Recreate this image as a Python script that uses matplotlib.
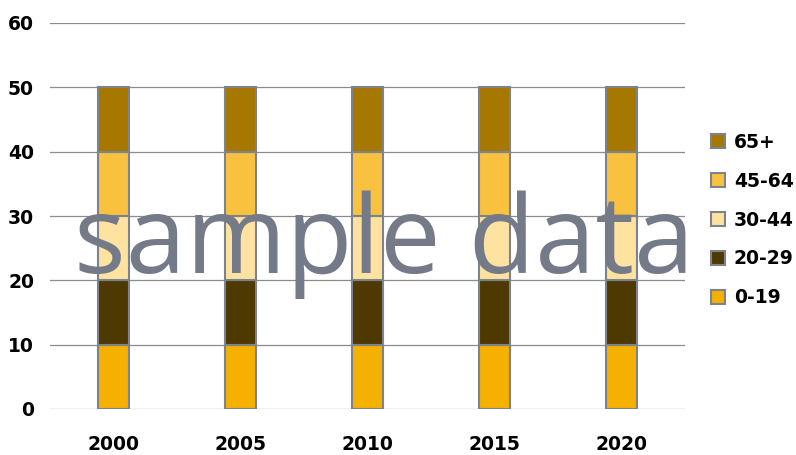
import matplotlib
matplotlib.use("Agg")
import matplotlib.pyplot as plt
from matplotlib.patches import Patch
from matplotlib.font_manager import FontProperties
import numpy as np

years = ["2000", "2005", "2010", "2015", "2020"]
groups = ["0-19", "20-29", "30-44", "45-64", "65+"]
values = {
    "0-19": [10, 10, 10, 10, 10],
    "20-29": [10, 10, 10, 10, 10],
    "30-44": [10, 10, 10, 10, 10],
    "45-64": [10, 10, 10, 10, 10],
    "65+": [10, 10, 10, 10, 10],
}
colors = {
    "0-19": "#F5B000",
    "20-29": "#4E3A00",
    "30-44": "#FDE2A0",
    "45-64": "#F8C240",
    "65+": "#A67800",
}
edge = "#7C838D"

plt.rcParams['font.family'] = ['Open Sans', 'DejaVu Sans']
label_fp = FontProperties(family='DejaVu Sans', weight='bold', size=13.5)

fig = plt.figure(figsize=(7.96, 4.55), dpi=100)
ax = fig.add_axes([50/796, 1-409/455, 635/796, 386/455])

x = np.arange(len(years))
bottom = np.zeros(len(years))
for g in groups:
    v = np.array(values[g], dtype=float)
    ax.bar(x, v, bottom=bottom, width=0.25, color=colors[g], edgecolor=edge,
           linewidth=1.5, zorder=3, label=g)
    bottom += v

ax.set_xlim(-0.5, len(years) - 0.5)
ax.set_ylim(0, 60)
ax.set_yticks(range(0, 61, 10))
ax.set_xticks(x)
ax.set_xticklabels(years)
ax.yaxis.grid(True, color="#8C8C8C", linewidth=0.9, zorder=0)
ax.set_axisbelow(True)
for s in ax.spines.values():
    s.set_visible(False)
ax.tick_params(axis='both', length=0)
ax.tick_params(axis='y', pad=11.5)
ax.tick_params(axis='x', pad=18.5)
for lab in ax.get_xticklabels() + ax.get_yticklabels():
    lab.set_fontproperties(label_fp)

handles = [Patch(facecolor=colors[g], edgecolor=edge, linewidth=1.5, label=g)
           for g in reversed(groups)]
leg = fig.legend(handles=handles, loc='center left', bbox_to_anchor=(703/796, 1-220/455),
                 frameon=False, prop=label_fp,
                 handlelength=0.75, handleheight=0.75, handletextpad=0.5,
                 labelspacing=1.06, borderaxespad=0)

fig.text(384/796, 1-273/455, "sample data", fontsize=78, color="#747A87",
         ha='center', va='baseline', zorder=10)

fig.savefig("out.png", dpi=100)
